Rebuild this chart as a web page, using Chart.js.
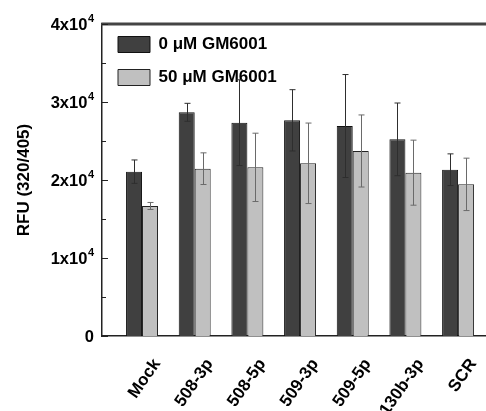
<!DOCTYPE html>
<html><head><meta charset="utf-8">
<script src="https://cdn.jsdelivr.net/npm/chart.js@4.4.0/dist/chart.umd.min.js"></script>
<style>html,body{margin:0;padding:0;background:#fff;overflow:hidden}#wrap{width:486px;height:411px;position:relative}</style>
</head><body><div id="wrap"><canvas id="c"></canvas></div>
<script>
// ---- data ----
const categories = ['Mock', '508-3p', '508-5p', '509-3p', '509-5p', '130b-3p', 'SCR'];
const seriesNames = ['0 \u03bcM GM6001', '50 \u03bcM GM6001'];
const values0 = [21070, 28680, 27350, 27650, 26920, 25210, 21320];
const errors0 = [1500, 1150, 5500, 3930, 6600, 4660, 2030];
const values50 = [16670, 21450, 21620, 22140, 23720, 20940, 19440];
const errors50 = [450, 2030, 4380, 5160, 4620, 4170, 3360];
const yTicks = [0, 10000, 20000, 30000, 40000];
const yTickBase = ['0', '1x10', '2x10', '3x10', '4x10'];
const yTickSup = ['', '4', '4', '4', '4'];
const yTitle = 'RFU (320/405)';

const FONT = "'Liberation Sans', Arial, sans-serif";
const errColors = ['#2e2e2e', '#6a6a6a'];
const errs = [errors0, errors50];

const errorBars = {
  id: 'errorBars',
  afterDatasetsDraw(chart) {
    const ctx = chart.ctx, y = chart.scales.y;
    chart.data.datasets.forEach((ds, di) => {
      const meta = chart.getDatasetMeta(di);
      meta.data.forEach((el, i) => {
        const v = ds.data[i].y, e = errs[di][i];
        const yt = y.getPixelForValue(v + e), yb = y.getPixelForValue(v - e);
        const x = Math.round(el.x) + 0.5;
        ctx.save();
        ctx.strokeStyle = errColors[di];
        ctx.lineWidth = 1;
        ctx.beginPath();
        ctx.moveTo(x, yt); ctx.lineTo(x, yb);
        ctx.moveTo(x - 3, yt); ctx.lineTo(x + 3, yt);
        ctx.moveTo(x - 3, yb); ctx.lineTo(x + 3, yb);
        ctx.stroke();
        ctx.restore();
      });
    });
  }
};

const frame = {
  id: 'plotFrame',
  afterLayout(chart) {
    if (chart.legend) { chart.legend.top = chart.chartArea.top - 4; }
  },
  afterDraw(chart) {
    const ctx = chart.ctx, a = chart.chartArea, ys = chart.scales.y;
    ctx.save();
    // top frame line
    ctx.fillStyle = '#444444';
    ctx.fillRect(a.left - 0.75, a.top - 1.5, a.right - a.left + 1, 3);
    // inward tick marks on the y axis
    ctx.strokeStyle = '#222';
    ctx.lineWidth = 1;
    ctx.beginPath();
    for (let v = 0; v <= 40000; v += 5000) {
      const py = Math.round(ys.getPixelForValue(v)) + 0.5;
      const len = (v % 10000 === 0) ? 6 : 4;
      ctx.moveTo(a.left, py); ctx.lineTo(a.left + len, py);
    }
    ctx.stroke();
    // y tick labels with superscript exponent
    ctx.fillStyle = '#000';
    ctx.textBaseline = 'alphabetic';
    ctx.textAlign = 'left';
    const baseFont = 'bold 16.5px ' + FONT, supFont = 'bold 11px ' + FONT;
    const rightX = a.left - 8;
    yTicks.forEach((v, i) => {
      const py = ys.getPixelForValue(v);
      ctx.font = supFont;
      const ws = yTickSup[i] ? ctx.measureText(yTickSup[i]).width + 0.5 : 0;
      ctx.font = baseFont;
      const wb = ctx.measureText(yTickBase[i]).width;
      const x0 = rightX - ws - wb;
      ctx.fillText(yTickBase[i], x0, py + 5.9);
      if (yTickSup[i]) {
        ctx.font = supFont;
        ctx.fillText(yTickSup[i], x0 + wb + 0.5, py - 2.3);
      }
    });
    ctx.restore();
  }
};

new Chart(document.getElementById('c'), {
  type: 'bar',
  data: {
    datasets: [
      { label: seriesNames[0], data: values0.map((v, i) => ({ x: i, y: v })),
        backgroundColor: '#404040', borderColor: '#111', borderWidth: 1 },
      { label: seriesNames[1], data: values50.map((v, i) => ({ x: i, y: v })),
        backgroundColor: '#c0c0c0', borderColor: '#222', borderWidth: 1 }
    ]
  },
  options: {
    responsive: true,
    maintainAspectRatio: false,
    animation: false,
    categoryPercentage: 0.607,
    barPercentage: 1,
    layout: { padding: { top: 24, left: 0, right: 0, bottom: 0 } },
    plugins: {
      tooltip: { enabled: false },
      legend: {
        position: 'chartArea',
        align: 'start',
        labels: {
          boxWidth: 32, boxHeight: 16, padding: 16, color: '#000',
          font: { family: FONT, size: 17, weight: 'bold' }
        }
      }
    },
    scales: {
      x: {
        type: 'linear',
        min: -0.76, max: 6.53,
        offset: false,
        grid: { display: false, drawTicks: false },
        border: { display: true, color: '#222', width: 1.5 },
        afterBuildTicks(s) { s.ticks = categories.map((c, i) => ({ value: i })); },
        afterFit(s) { s.height = 75; s.paddingLeft = 0; s.paddingRight = 0; },
        ticks: {
          autoSkip: false, maxRotation: 55, minRotation: 55,
          labelOffset: 15, padding: 19, color: '#000',
          font: { family: FONT, size: 17, weight: 'bold' },
          callback: (v) => categories[v]
        }
      },
      y: {
        min: 0, max: 40000,
        grid: { display: false, drawTicks: false },
        border: { display: true, color: '#222', width: 1.5 },
        afterBuildTicks(s) { s.ticks = yTicks.map(v => ({ value: v })); },
        afterFit(s) { s.width = 102; s.paddingTop = 0; s.paddingBottom = 0; },
        ticks: { display: false },
        title: {
          display: true, text: yTitle, color: '#000',
          font: { family: FONT, size: 17, weight: 'bold' },
          padding: { top: 14, bottom: 0 }
        }
      }
    }
  },
  plugins: [errorBars, frame]
});
</script>
</body></html>
